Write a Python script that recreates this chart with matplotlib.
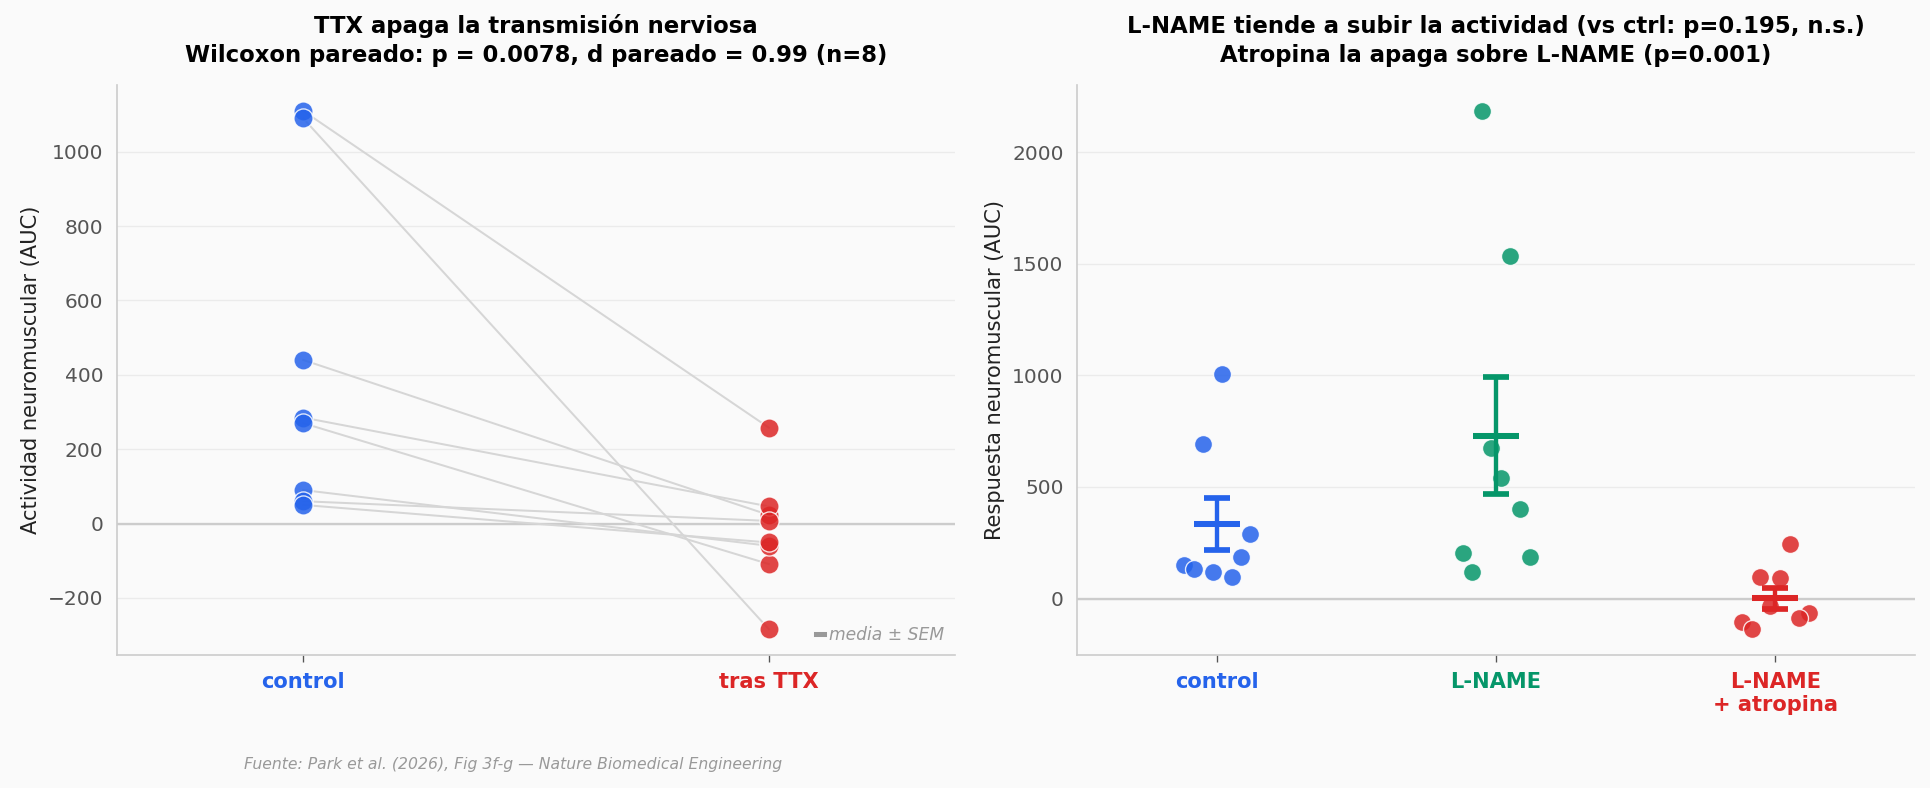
import numpy as np
import matplotlib
matplotlib.use("Agg")
import matplotlib.pyplot as plt
from matplotlib.lines import Line2D

# ---- data ----
paired_labels = ["control", "tras TTX"]
ctrl_vals = [1110, 1090, 440, 285, 270, 90, 60, 50]
ttx_vals = [258, -284, 23, 46, -109, -60, 7, -51]

group_labels = ["control", "L-NAME", "L-NAME\n+ atropina"]
g_control = [1008, 694, 291, 184, 150, 132, 118, 96]
g_lname = [2185, 1533, 673, 539, 399, 206, 184, 121]
g_atrop = [243, 96, 90, -33, -103, -65, -88, -137]
# horizontal jitter offsets
j_control = [0.018, -0.05, 0.12, 0.087, -0.117, -0.082, -0.014, 0.055]
j_lname = [-0.049, 0.051, -0.017, 0.018, 0.087, -0.117, 0.123, -0.085]
j_atrop = [0.051, -0.054, 0.015, -0.019, -0.121, 0.119, 0.086, -0.085]

BLUE = "#2563eb"
GREEN = "#059669"
RED = "#dc2626"
BG = "#fafafa"

plt.rcParams["font.family"] = ["DejaVu Sans"]

fig = plt.figure(figsize=(16, 788 / 120.625), dpi=120.625, facecolor=BG)
W, H = 1930, 788
ax1 = fig.add_axes([117 / W, 1 - 655 / H, 838 / W, 570 / H])
ax2 = fig.add_axes([1077 / W, 1 - 655 / H, 838 / W, 570 / H])

for ax in (ax1, ax2):
    ax.set_facecolor(BG)
    for s in ("top", "right"):
        ax.spines[s].set_visible(False)
    for s in ("left", "bottom"):
        ax.spines[s].set_color("#cccccc")
        ax.spines[s].set_linewidth(1.0)
    ax.grid(axis="y", color="#ebebeb", linewidth=0.8, zorder=0)
    ax.set_axisbelow(True)
    ax.axhline(0, color="#cccccc", linewidth=1.4, zorder=1)
    ax.tick_params(axis="y", length=0, labelsize=12, labelcolor="#555555", pad=8)
    ax.tick_params(axis="x", length=4, color="#555555", width=0.8, labelsize=12.5, pad=6)

# ---- left panel: paired ----
for c, t in zip(ctrl_vals, ttx_vals):
    ax1.plot([0, 1], [c, t], color="#d6d6d6", linewidth=1.2, zorder=2)
ax1.scatter(np.zeros(len(ctrl_vals)), ctrl_vals, s=130, color=BLUE, alpha=0.85,
            edgecolor="white", linewidth=0.8, zorder=3)
ax1.scatter(np.ones(len(ttx_vals)), ttx_vals, s=130, color=RED, alpha=0.85,
            edgecolor="white", linewidth=0.8, zorder=3)
ax1.set_xlim(-0.4, 1.4)
ax1.set_xticks([0, 1])
ax1.set_xticklabels(paired_labels, fontweight="bold")
for lab, col in zip(ax1.get_xticklabels(), [BLUE, RED]):
    lab.set_color(col)
ax1.set_ylabel("Actividad neuromuscular (AUC)", fontsize=12.5, color="#222222")
ax1.set_title("TTX apaga la transmisión nerviosa\n"
              "Wilcoxon pareado: p = 0.0078, d pareado = 0.99 (n=8)",
              fontsize=13.6, fontweight="bold", pad=14, linespacing=1.3)
leg = ax1.legend(handles=[Line2D([], [], color="#999999", linewidth=3)],
                 labels=["media ± SEM"], loc="lower right", frameon=False,
                 handlelength=0.45, handletextpad=0.3, borderaxespad=0.25,
                 prop={"style": "italic", "size": 10.2})
for txt in leg.get_texts():
    txt.set_color("#999999")

# ---- right panel: groups ----
groups = [g_control, g_lname, g_atrop]
jits = [j_control, j_lname, j_atrop]
cols = [BLUE, GREEN, RED]
for i, (vals, jit, col) in enumerate(zip(groups, jits, cols)):
    x = i + np.array(jit)
    ax2.scatter(x, vals, s=115, color=col, alpha=0.85, edgecolor="white",
                linewidth=0.8, zorder=3)
    v = np.array(vals, dtype=float)
    m = v.mean()
    sem = v.std(ddof=1) / np.sqrt(len(v))
    ax2.errorbar(i, m, yerr=sem, fmt="none", ecolor=col, elinewidth=2.6,
                 capsize=7.5, capthick=3.4, zorder=4)
    ax2.plot([i - 0.082, i + 0.082], [m, m], color=col, linewidth=3.6,
             solid_capstyle="butt", zorder=4)
ax2.set_xlim(-0.5, 2.5)
ax2.set_xticks([0, 1, 2])
ax2.set_xticklabels(group_labels, fontweight="bold")
for lab, col in zip(ax2.get_xticklabels(), cols):
    lab.set_color(col)
ax2.set_ylabel("Respuesta neuromuscular (AUC)", fontsize=12.5, color="#222222")
ax2.set_title("L-NAME tiende a subir la actividad (vs ctrl: p=0.195, n.s.)\n"
              "Atropina la apaga sobre L-NAME (p=0.001)",
              fontsize=13.6, fontweight="bold", pad=14, linespacing=1.3)

fig.text(243.7 / W, 1 - 764 / H, "Fuente: Park et al. (2026), Fig 3f-g — Nature Biomedical Engineering",
         fontsize=9.3, style="italic", color="#999999", ha="left", va="center")

fig.savefig("out.png", dpi=120.625, facecolor=BG)
